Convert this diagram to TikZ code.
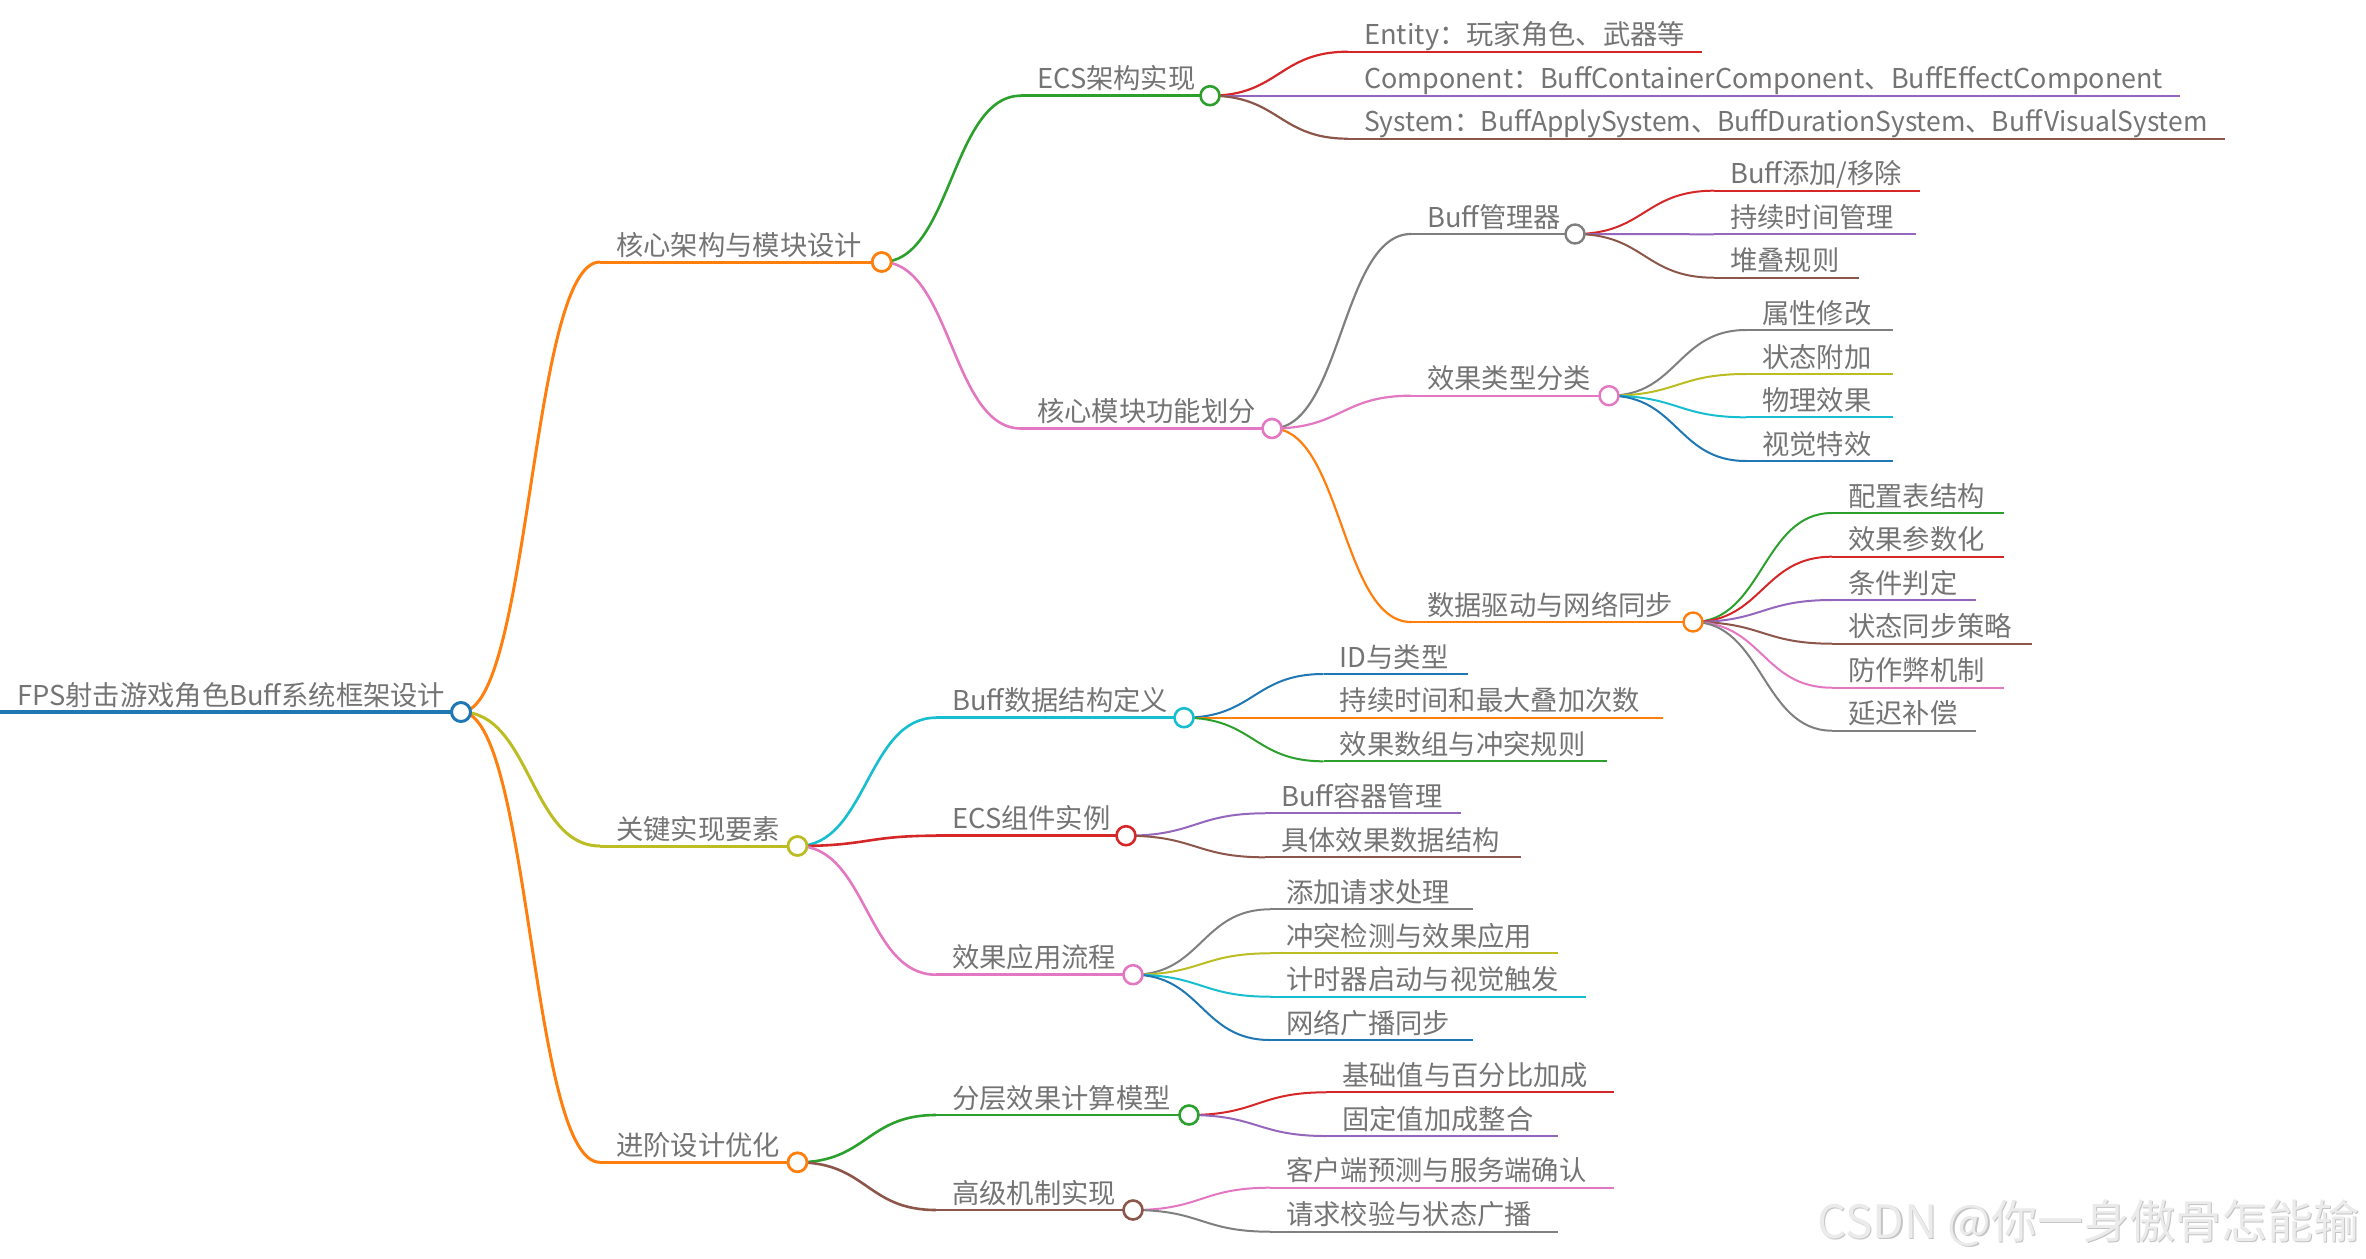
\documentclass[tikz,border=0pt]{standalone}
\usepackage{fontspec}
\setmainfont{Noto Sans CJK SC}
\usetikzlibrary{calc}
\definecolor{cblue}{HTML}{1F77B4}
\definecolor{corange}{HTML}{FF7F0E}
\definecolor{cgreen}{HTML}{2CA02C}
\definecolor{cred}{HTML}{D62728}
\definecolor{cpurple}{HTML}{9467BD}
\definecolor{cbrown}{HTML}{8C564B}
\definecolor{cpink}{HTML}{E377C2}
\definecolor{cgray}{HTML}{7F7F7F}
\definecolor{colive}{HTML}{BCBD22}
\definecolor{ccyan}{HTML}{17BECF}
\definecolor{txtgray}{HTML}{747474}
\definecolor{wmfill}{HTML}{EBEBEB}
\definecolor{wmshade}{HTML}{C4C4C4}
\tikzset{
  txt/.style={anchor=base west, inner sep=0pt, text=txtgray, font=\fontsize{27.3}{30}\selectfont},
  wm/.style={anchor=base west, inner sep=0pt, font=\fontsize{46}{50}\selectfont},
}
% #1 name, #2 x start, #3 x end, #4 y, #5 colour, #6 text, #7 width, #8 xscale of text
\newcommand\mnodex[8]{%
  \coordinate (#1s) at (#2,#4);
  \coordinate (#1e) at (#3,#4);
  \draw[#5, line width=#7] (#1s) -- (#1e);
  \node[txt, xscale=#8] (#1) at (#2+16,#4-7) {#6};
}
\newcommand\mnode[7]{\mnodex{#1}{#2}{#3}{#4}{#5}{#6}{#7}{1}}
\newcommand\mlink[4]{%
  \draw[#3, line width=#4] let \p1=(#1e), \p2=(#2s) in
    (#1e) .. controls ({(\x1+\x2)/2},\y1) and ({(\x1+\x2)/2},\y2) .. (#2s);
}
\newcommand\mcirc[3]{%
  \draw[#2, line width=#3, fill=white] (#1e) circle[radius=9.5pt];
}
\begin{document}
\begin{tikzpicture}[x=1pt,y=-1pt]
\useasboundingbox (0,0) rectangle (2366,1258);
% root
\mnode{R}{0}{461}{712}{cblue}{\hspace*{1pt}FPS射击游戏角色Buff系统框架设计}{3.5}
% level 1
\mnode{A}{600}{881.7}{262}{corange}{核心架构与模块设计}{3}
\mnode{B}{600}{797.5}{846}{colive}{关键实现要素}{3}
\mnode{C}{600}{797.5}{1162.3}{corange}{进阶设计优化}{3}
% level 2
\mnode{Aa}{1021}{1210}{95.7}{cgreen}{ECS架构实现}{2.6}
\mnode{Ab}{1021}{1272}{428.5}{cpink}{核心模块功能划分}{2.6}
\mnode{Ba}{936}{1184}{717.7}{ccyan}{Buff数据结构定义}{2.6}
\mnode{Bb}{936}{1126}{835.7}{cred}{ECS组件实例}{2.6}
\mnode{Bc}{936}{1133}{974.7}{cpink}{效果应用流程}{2.6}
\mnode{Ca}{936}{1189}{1115}{cgreen}{分层效果计算模型}{2.6}
\mnode{Cb}{936}{1133}{1210}{cbrown}{高级机制实现}{2.6}
% level 3
\mnode{Aa1}{1348}{1702}{51.7}{cred}{Entity：玩家角色、武器等}{2.2}
\mnodex{Aa2}{1348}{2180}{95.7}{cpurple}{Component：BuffContainerComponent、BuffEffectComponent}{2.2}{0.985}
\mnodex{Aa3}{1348}{2225}{138.7}{cbrown}{System：BuffApplySystem、BuffDurationSystem、BuffVisualSystem}{2.2}{0.968}
\mnode{Ab1}{1411}{1575}{234}{cgray}{Buff管理器}{2.2}
\mnode{Ab2}{1411}{1609}{395.7}{cpink}{效果类型分类}{2.2}
\mnode{Ab3}{1411}{1693}{622}{corange}{数据驱动与网络同步}{2.2}
\mnode{Ba1}{1323.5}{1468}{674}{cblue}{ID与类型}{2}
\mnode{Ba2}{1323.5}{1663}{717.7}{corange}{持续时间和最大叠加次数}{2}
\mnode{Ba3}{1323.5}{1607}{761.3}{cgreen}{效果数组与冲突规则}{2}
\mnode{Bb1}{1265}{1461}{813.3}{cpurple}{Buff容器管理}{2}
\mnode{Bb2}{1265}{1521}{857.3}{cbrown}{具体效果数据结构}{2}
\mnode{Bc1}{1270}{1473}{909.3}{cgray}{添加请求处理}{2}
\mnode{Bc2}{1270}{1557.5}{953.3}{colive}{冲突检测与效果应用}{2}
\mnode{Bc3}{1270}{1585.6}{996.7}{ccyan}{计时器启动与视觉触发}{2}
\mnode{Bc4}{1270}{1473}{1040}{cblue}{网络广播同步}{2}
\mnode{Ca1}{1326}{1613.7}{1092.3}{cred}{基础值与百分比加成}{2}
\mnode{Ca2}{1326}{1557.5}{1136}{cpurple}{固定值加成整合}{2}
\mnode{Cb1}{1270}{1613.7}{1187.7}{cpink}{客户端预测与服务端确认}{2}
\mnode{Cb2}{1270}{1557.5}{1231.7}{cgray}{请求校验与状态广播}{2}
% level 4
\mnode{Ab11}{1714}{1920}{190.7}{cred}{Buff添加/移除}{2}
\mnode{Ab12}{1714}{1916}{234.3}{cpurple}{持续时间管理}{2}
\mnode{Ab13}{1714}{1859}{277.7}{cbrown}{堆叠规则}{2}
\mnode{Ab21}{1746}{1893}{330}{cgray}{属性修改}{2}
\mnode{Ab22}{1746}{1893}{374}{colive}{状态附加}{2}
\mnode{Ab23}{1746}{1893}{417.3}{ccyan}{物理效果}{2}
\mnode{Ab24}{1746}{1893}{461}{cblue}{视觉特效}{2}
\mnode{Ab31}{1832}{2004}{513}{cgreen}{配置表结构}{2}
\mnode{Ab32}{1832}{2004}{556.7}{cred}{效果参数化}{2}
\mnode{Ab33}{1832}{1976}{600}{cpurple}{条件判定}{2}
\mnode{Ab34}{1832}{2032}{643.7}{cbrown}{状态同步策略}{2}
\mnode{Ab35}{1832}{2004}{687.7}{cpink}{防作弊机制}{2}
\mnode{Ab36}{1832}{1976}{730.7}{cgray}{延迟补偿}{2}
% links
\mlink{R}{A}{corange}{3}
\mlink{R}{B}{colive}{3}
\mlink{R}{C}{corange}{3}
\mlink{A}{Aa}{cgreen}{2.6}
\mlink{A}{Ab}{cpink}{2.6}
\mlink{B}{Ba}{ccyan}{2.6}
\mlink{B}{Bb}{cred}{2.6}
\mlink{B}{Bc}{cpink}{2.6}
\mlink{C}{Ca}{cgreen}{2.6}
\mlink{C}{Cb}{cbrown}{2.6}
\mlink{Aa}{Aa1}{cred}{2.2}
\mlink{Aa}{Aa2}{cpurple}{2.2}
\mlink{Aa}{Aa3}{cbrown}{2.2}
\mlink{Ab}{Ab1}{cgray}{2.2}
\mlink{Ab}{Ab2}{cpink}{2.2}
\mlink{Ab}{Ab3}{corange}{2.2}
\mlink{Ba}{Ba1}{cblue}{2}
\mlink{Ba}{Ba2}{corange}{2}
\mlink{Ba}{Ba3}{cgreen}{2}
\mlink{Bb}{Bb1}{cpurple}{2}
\mlink{Bb}{Bb2}{cbrown}{2}
\mlink{Bc}{Bc1}{cgray}{2}
\mlink{Bc}{Bc2}{colive}{2}
\mlink{Bc}{Bc3}{ccyan}{2}
\mlink{Bc}{Bc4}{cblue}{2}
\mlink{Ca}{Ca1}{cred}{2}
\mlink{Ca}{Ca2}{cpurple}{2}
\mlink{Cb}{Cb1}{cpink}{2}
\mlink{Cb}{Cb2}{cgray}{2}
\mlink{Ab1}{Ab11}{cred}{2}
\mlink{Ab1}{Ab12}{cpurple}{2}
\mlink{Ab1}{Ab13}{cbrown}{2}
\mlink{Ab2}{Ab21}{cgray}{2}
\mlink{Ab2}{Ab22}{colive}{2}
\mlink{Ab2}{Ab23}{ccyan}{2}
\mlink{Ab2}{Ab24}{cblue}{2}
\mlink{Ab3}{Ab31}{cgreen}{2}
\mlink{Ab3}{Ab32}{cred}{2}
\mlink{Ab3}{Ab33}{cpurple}{2}
\mlink{Ab3}{Ab34}{cbrown}{2}
\mlink{Ab3}{Ab35}{cpink}{2}
\mlink{Ab3}{Ab36}{cgray}{2}
% circles
\mcirc{R}{cblue}{3}
\mcirc{A}{corange}{2.8}
\mcirc{B}{colive}{2.8}
\mcirc{C}{corange}{2.8}
\mcirc{Aa}{cgreen}{2.6}
\mcirc{Ab}{cpink}{2.6}
\mcirc{Ba}{ccyan}{2.6}
\mcirc{Bb}{cred}{2.6}
\mcirc{Bc}{cpink}{2.6}
\mcirc{Ca}{cgreen}{2.6}
\mcirc{Cb}{cbrown}{2.6}
\mcirc{Ab1}{cgray}{2.4}
\mcirc{Ab2}{cpink}{2.4}
\mcirc{Ab3}{corange}{2.4}
% watermark
\node[wm, text=wmshade] (wmb) at (1818.5,1239.5) {CSDN @你一身傲骨怎能输};
\node[wm, text=wmfill] (wmt) at (1817,1238) {CSDN @你一身傲骨怎能输};
\end{tikzpicture}
\end{document}
